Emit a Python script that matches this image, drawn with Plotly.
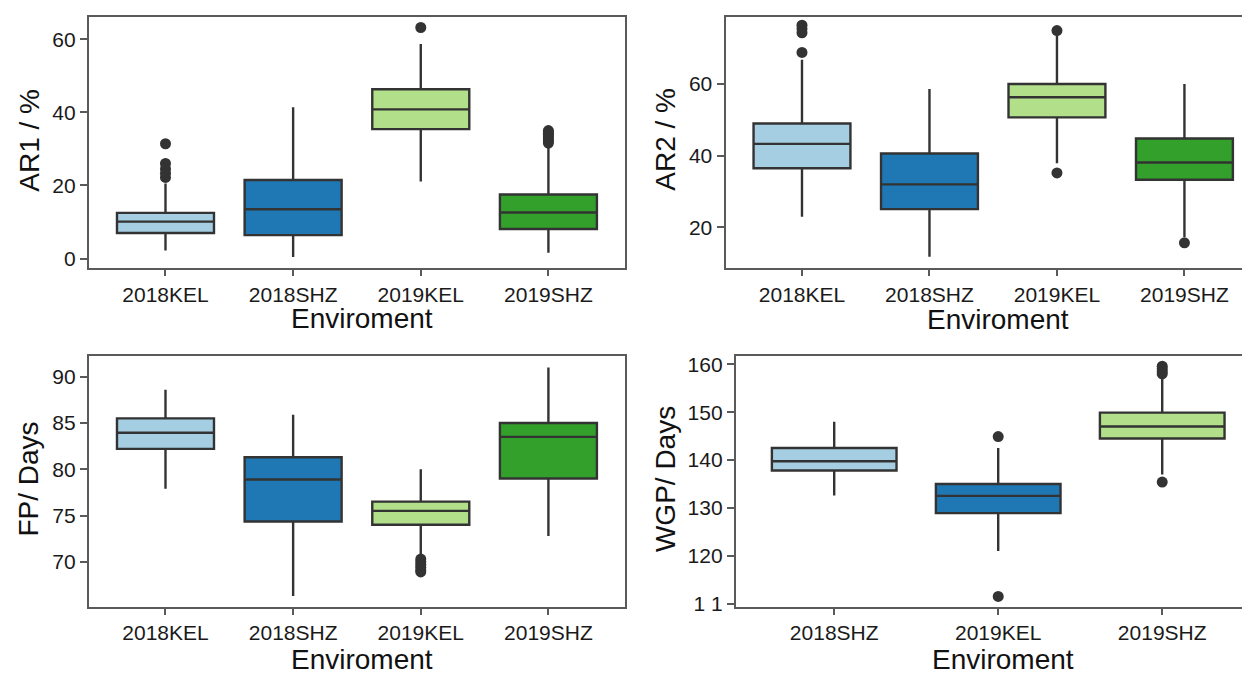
import plotly.graph_objects as go

W, H = 1250, 676

# ---------------- data ----------------
cats4 = ["2018KEL", "2018SHZ", "2019KEL", "2019SHZ"]
cats3 = ["2018SHZ", "2019KEL", "2019SHZ"]
colors4 = ["#a6cee3", "#1f78b4", "#b2df8a", "#33a02c"]
colors3 = ["#a6cee3", "#1f78b4", "#b2df8a"]

# AR1 / %
ar1_q1 = [7.0, 6.4, 35.4, 8.1]
ar1_med = [10.1, 13.5, 40.8, 12.6]
ar1_q3 = [12.5, 21.5, 46.3, 17.5]
ar1_lo = [2.2, 0.4, 21.1, 1.6]
ar1_hi = [20.5, 41.4, 58.7, 30.5]
ar1_out = {"2018KEL": [31.4, 26.0, 24.5, 23.3, 22.2],
           "2019KEL": [63.2],
           "2019SHZ": [35.0, 34.5, 34.0, 33.4, 32.8, 32.2, 31.6]}

# AR2 / %
ar2_q1 = [36.5, 25.1, 50.7, 33.3]
ar2_med = [43.3, 32.0, 56.3, 38.1]
ar2_q3 = [49.0, 40.6, 60.0, 44.8]
ar2_lo = [23.0, 11.8, 37.9, 17.3]
ar2_hi = [66.8, 58.6, 73.5, 60.0]
ar2_out = {"2018KEL": [76.4, 75.4, 74.3, 68.8],
           "2019KEL": [74.9, 35.2],
           "2019SHZ": [15.7]}

# FP / Days
fp_q1 = [82.2, 74.35, 74.0, 79.0]
fp_med = [83.95, 78.9, 75.5, 83.5]
fp_q3 = [85.5, 81.3, 76.5, 85.0]
fp_lo = [77.9, 66.3, 70.8, 72.8]
fp_hi = [88.6, 85.9, 80.0, 91.0]
fp_out = {"2019KEL": [70.3, 70.0, 69.7, 69.4, 69.1, 68.9]}

# WGP / Days
wgp_q1 = [137.8, 128.9, 144.5]
wgp_med = [139.75, 132.5, 147.0]
wgp_q3 = [142.5, 135.0, 149.9]
wgp_lo = [132.6, 121.0, 137.0]
wgp_hi = [148.0, 142.5, 157.5]
wgp_out = {"2019KEL": [144.9, 111.5],
           "2019SHZ": [159.6, 159.1, 158.5, 158.0, 135.4]}

ar1_ticks = [0, 20, 40, 60]
ar2_ticks = [20, 40, 60]
fp_ticks = [70, 75, 80, 85, 90]
wgp_ticks = [110, 120, 130, 140, 150, 160]
wgp_ticktext = ["1 1", "120", "130", "140", "150", "160"]

# ---------------- figure ----------------
FONT = "Liberation Sans, Arial, sans-serif"
LINE = "#333333"
AXIS = "#5a5a5a"

fig = go.Figure()


def add_panel(idx, cats, colors, q1, med, q3, lo, hi, outs):
    xa = "x" if idx == 1 else f"x{idx}"
    ya = "y" if idx == 1 else f"y{idx}"
    for i, c in enumerate(cats):
        fig.add_trace(go.Box(
            x=[c], q1=[q1[i]], median=[med[i]], q3=[q3[i]],
            lowerfence=[lo[i]], upperfence=[hi[i]],
            width=0.76, whiskerwidth=0, boxpoints=False,
            fillcolor=colors[i], line=dict(color=LINE, width=2.4),
            xaxis=xa, yaxis=ya, showlegend=False, hoverinfo="skip"))
    for c, vals in outs.items():
        fig.add_trace(go.Scatter(
            x=[c] * len(vals), y=vals, mode="markers",
            marker=dict(color=LINE, size=11, line=dict(width=0)),
            xaxis=xa, yaxis=ya, showlegend=False, hoverinfo="skip"))


add_panel(1, cats4, colors4, ar1_q1, ar1_med, ar1_q3, ar1_lo, ar1_hi, ar1_out)
add_panel(2, cats4, colors4, ar2_q1, ar2_med, ar2_q3, ar2_lo, ar2_hi, ar2_out)
add_panel(3, cats4, colors4, fp_q1, fp_med, fp_q3, fp_lo, fp_hi, fp_out)
add_panel(4, cats3, colors3, wgp_q1, wgp_med, wgp_q3, wgp_lo, wgp_hi, wgp_out)


def px_x(p):
    return p / W


def px_y(p):
    return 1 - p / H


tickfont = dict(family=FONT, size=21, color="#1a1a1a")


def xaxis(domain, cats, rng, anchor, mirror):
    return dict(domain=domain, type="category", categoryorder="array",
                categoryarray=cats, range=rng, anchor=anchor,
                showline=True, linecolor=AXIS, linewidth=2, mirror=mirror,
                ticks="outside", ticklen=6, tickwidth=2, tickcolor=AXIS,
                showgrid=False, zeroline=False, tickfont=tickfont)


def yaxis(domain, rng, tickvals, anchor, mirror, ticktext=None):
    d = dict(domain=domain, range=rng, anchor=anchor, tickmode="array",
             tickvals=tickvals, showline=True, linecolor=AXIS, linewidth=2,
             mirror=mirror, ticks="outside", ticklen=7, tickwidth=2,
             tickcolor=AXIS, showgrid=False, zeroline=False, tickfont=tickfont)
    if ticktext is not None:
        d["ticktext"] = ticktext
    return d


top_dom = [px_y(261), px_y(4.7)]
bot_dom = [px_y(605.7), px_y(350.7)]
left_dom = [px_x(80.9), px_x(617)]
right_dom2 = [px_x(717.5), 1.0]
right_dom4 = [px_x(727.8), 1.0]

fig.update_layout(
    width=W, height=H,
    margin=dict(l=0, r=0, t=0, b=0),
    paper_bgcolor="white", plot_bgcolor="white",
    showlegend=False,
    xaxis=xaxis(left_dom, cats4, [-0.6, 3.6], "y", True),
    yaxis=yaxis(top_dom, [-2.69, 66.18], ar1_ticks, "x", True),
    xaxis2=xaxis(right_dom2, cats4, [-0.6, 3.577], "y2", True),
    yaxis2=yaxis(top_dom, [8.58, 78.8], ar2_ticks, "x2", False),
    xaxis3=xaxis(left_dom, cats4, [-0.6, 3.6], "y3", True),
    yaxis3=yaxis(bot_dom, [65.12, 92.19], fp_ticks, "x3", True),
    xaxis4=xaxis(right_dom4, cats3, [-0.6, 2.584], "y4", True),
    yaxis4=yaxis(bot_dom, [109.3, 161.64], wgp_ticks, "x4", False, wgp_ticktext),
)

titlefont = dict(family=FONT, size=28, color="#111111")
ann = []
# y titles
for text, xp, yp in [("AR1 / %", 21.5, 130.5), ("AR2 / %", 658, 130),
                     ("FP/ Days", 21, 476), ("WGP/ Days", 657, 475.5)]:
    ann.append(dict(text=text, x=px_x(xp), y=px_y(yp), xref="paper", yref="paper",
                    xanchor="center", yanchor="middle", textangle=-90,
                    showarrow=False, font=titlefont))
# x titles
for xp, yp in [(354, 312), (990, 313), (354, 659), (995, 659)]:
    ann.append(dict(text="Enviroment", x=px_x(xp), y=px_y(yp), xref="paper",
                    yref="paper", xanchor="center", yanchor="middle",
                    showarrow=False, font=titlefont))
fig.update_layout(annotations=ann)

fig.write_html("out.html")
